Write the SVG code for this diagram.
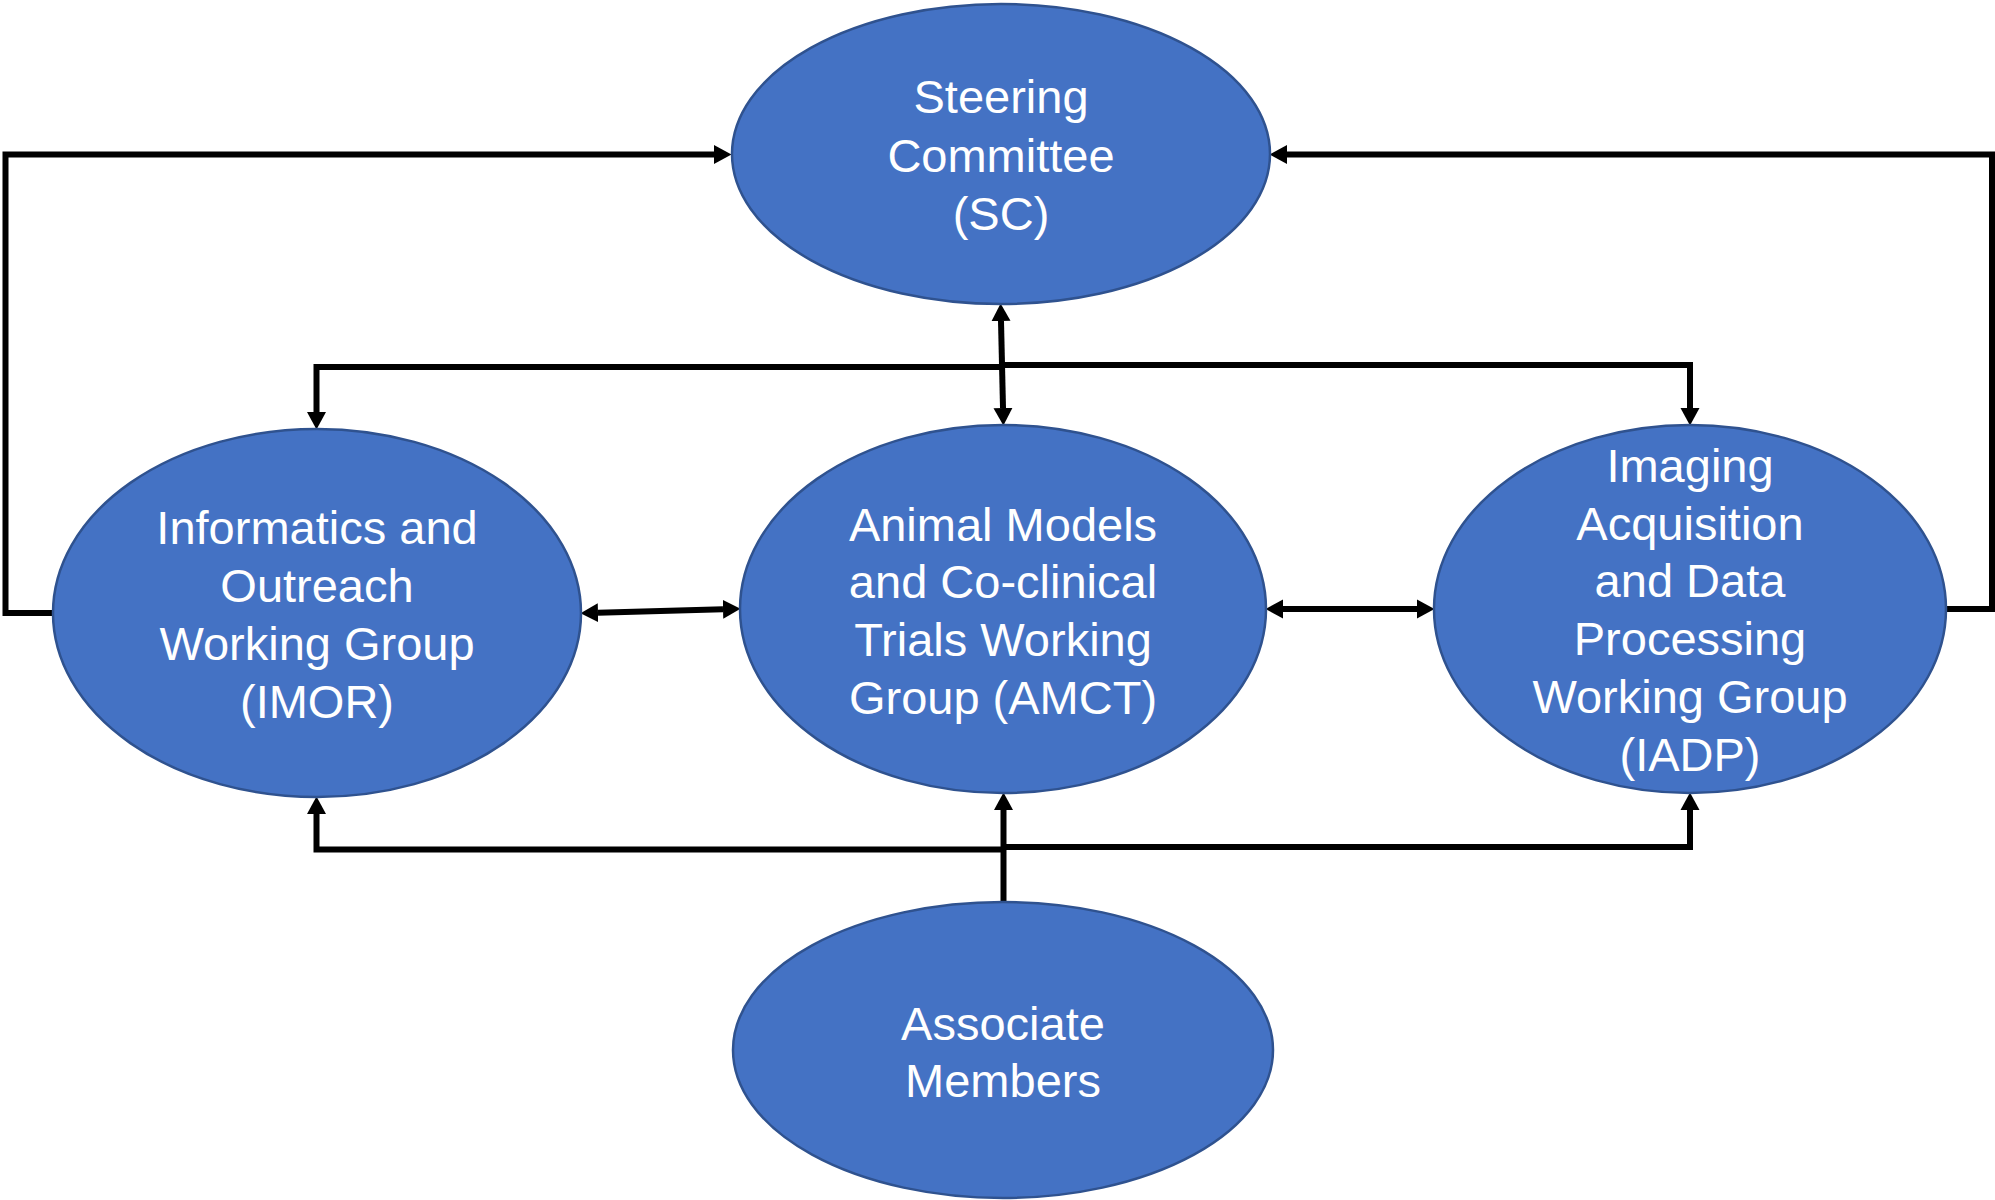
<svg xmlns="http://www.w3.org/2000/svg" width="1995" height="1200" viewBox="0 0 1995 1200">
<style>
.node ellipse { fill: #4472C4; stroke: #2F528F; stroke-width: 2.5; }
.node text { fill: #FFFFFF; font-family: "Liberation Sans", Arial, sans-serif; font-size: 47px; text-anchor: middle; }
.conn path { fill: none; stroke: #000000; stroke-width: 6; stroke-linejoin: miter; }
</style>
<defs>
<marker id="ah" markerUnits="userSpaceOnUse" markerWidth="18" markerHeight="20" refX="0" refY="10" orient="auto-start-reverse" viewBox="0 0 18 20">
<path d="M0,0.5 L17.5,10 L0,19.5 z" fill="#000000"/>
</marker>
</defs>
<rect width="1995" height="1200" fill="#FFFFFF"/>
<g id="connectors" class="conn">
<path d="M53,613 H5.5 V154.5 H714" marker-end="url(#ah)"/>
<path d="M1947,609 H1992 V154.5 H1287" marker-end="url(#ah)"/>
<path d="M1001,321 L1003,408" marker-start="url(#ah)" marker-end="url(#ah)"/>
<path d="M1002,367 H316.5 V412" marker-end="url(#ah)"/>
<path d="M1002,365 H1690 V408" marker-end="url(#ah)"/>
<path d="M598,612.7 L723,609.3" marker-start="url(#ah)" marker-end="url(#ah)"/>
<path d="M1283,609 L1417,609" marker-start="url(#ah)" marker-end="url(#ah)"/>
<path d="M1003.5,902 V810" marker-end="url(#ah)"/>
<path d="M1003.5,849.5 H316.5 V814" marker-end="url(#ah)"/>
<path d="M1003.5,847 H1690 V810" marker-end="url(#ah)"/>
</g>
<g id="sc" class="node">
<ellipse cx="1001" cy="154" rx="269" ry="150"/>
<text x="1001" y="113">Steering</text>
<text x="1001" y="172">Committee</text>
<text x="1001" y="230">(SC)</text>
</g>
<g id="imor" class="node">
<ellipse cx="317" cy="613" rx="264" ry="184"/>
<text x="317" y="544">Informatics and</text>
<text x="317" y="602">Outreach</text>
<text x="317" y="660">Working Group</text>
<text x="317" y="718">(IMOR)</text>
</g>
<g id="amct" class="node">
<ellipse cx="1003" cy="609" rx="263" ry="184"/>
<text x="1003" y="541">Animal Models</text>
<text x="1003" y="598">and Co-clinical</text>
<text x="1003" y="656">Trials Working</text>
<text x="1003" y="714">Group (AMCT)</text>
</g>
<g id="iadp" class="node">
<ellipse cx="1690" cy="609" rx="256" ry="184"/>
<text x="1690" y="482">Imaging</text>
<text x="1690" y="540">Acquisition</text>
<text x="1690" y="597">and Data</text>
<text x="1690" y="655">Processing</text>
<text x="1690" y="713">Working Group</text>
<text x="1690" y="771">(IADP)</text>
</g>
<g id="am" class="node">
<ellipse cx="1003" cy="1050" rx="270" ry="148"/>
<text x="1003" y="1040">Associate</text>
<text x="1003" y="1097">Members</text>
</g>
</svg>
